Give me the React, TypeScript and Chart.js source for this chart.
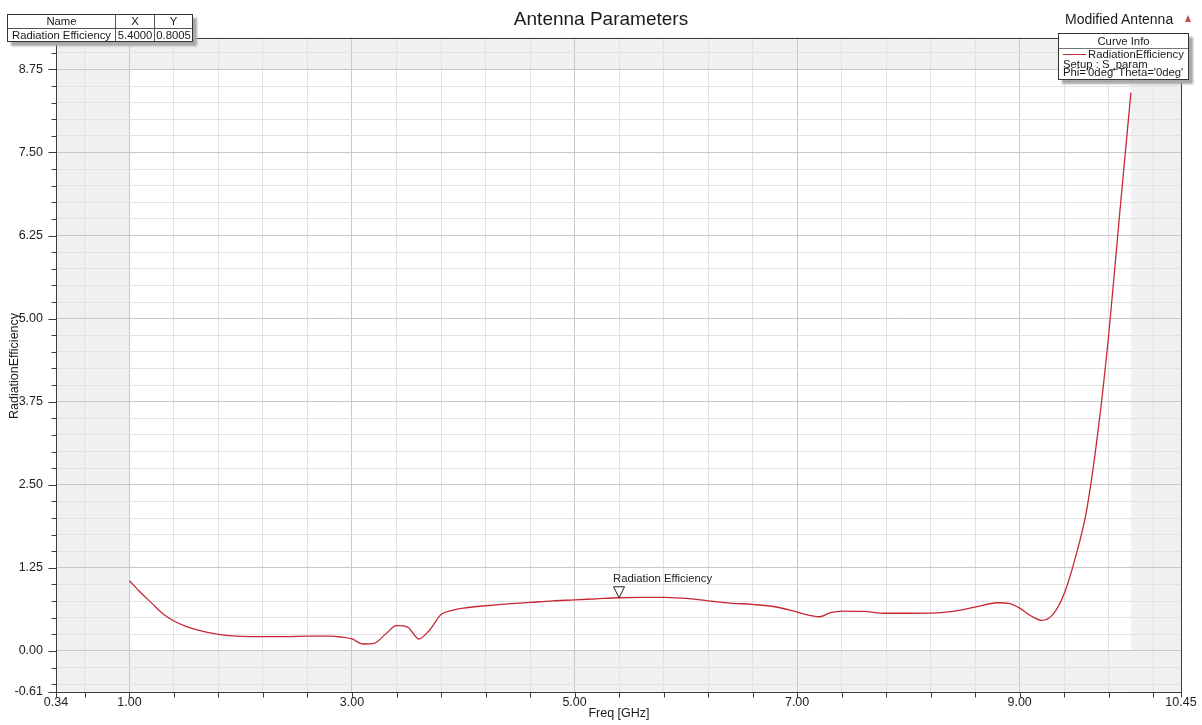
import React, { useEffect, useRef } from "react";
import { Chart, registerables } from "chart.js";

Chart.register(...registerables);

// ---- data ----
const freqGHz = [
  1.0, 1.1, 1.2, 1.3, 1.4, 1.5, 1.6, 1.7, 1.8, 1.9, 2.0, 2.2, 2.4, 2.6, 2.8, 2.9,
  3.0, 3.1, 3.2, 3.3, 3.4, 3.5, 3.6, 3.7, 3.8, 3.9, 4.0, 4.2, 4.4, 4.6, 4.8, 5.0,
  5.2, 5.4, 5.6, 5.8, 5.9, 6.0, 6.2, 6.4, 6.6, 6.8, 7.0, 7.1, 7.2, 7.3, 7.4, 7.6,
  7.8, 8.0, 8.2, 8.4, 8.6, 8.8, 8.9, 9.0, 9.1, 9.2, 9.3, 9.4, 9.5, 9.6, 9.7, 9.8,
  9.9, 10.0,
];
const radiationEfficiency = [
  1.057, 0.88, 0.72, 0.56, 0.45, 0.375, 0.32, 0.28, 0.25, 0.23, 0.218, 0.215, 0.215, 0.222, 0.222, 0.21,
  0.18, 0.105, 0.115, 0.25, 0.38, 0.36, 0.18, 0.32, 0.55, 0.61, 0.645, 0.68, 0.708, 0.73, 0.755, 0.768,
  0.785, 0.8005, 0.805, 0.805, 0.8, 0.79, 0.755, 0.72, 0.7, 0.665, 0.585, 0.54, 0.515, 0.575, 0.6, 0.595,
  0.567, 0.567, 0.568, 0.595, 0.66, 0.725, 0.715, 0.645, 0.53, 0.46, 0.55, 0.86, 1.4, 2.1, 3.25, 4.75,
  6.6, 8.4,
];

const xTicks = [
  0.34, 0.6, 1.0, 1.4, 1.8, 2.2, 2.6, 3.0, 3.4, 3.8, 4.2, 4.6, 5.0, 5.4, 5.8, 6.2,
  6.6, 7.0, 7.4, 7.8, 8.2, 8.6, 9.0, 9.4, 9.8, 10.2, 10.45,
];
const xTickLabels = ["0.34", "1.00", "3.00", "5.00", "7.00", "9.00", "10.45"];
const yTicks = [
  -0.61, -0.5, -0.25, 0, 0.25, 0.5, 0.75, 1.0, 1.25, 1.5, 1.75, 2.0, 2.25, 2.5, 2.75,
  3.0, 3.25, 3.5, 3.75, 4.0, 4.25, 4.5, 4.75, 5.0, 5.25, 5.5, 5.75, 6.0, 6.25, 6.5,
  6.75, 7.0, 7.25, 7.5, 7.75, 8.0, 8.25, 8.5, 8.75, 9.0,
];
const yTickLabels = ["-0.61", "0.00", "1.25", "2.50", "3.75", "5.00", "6.25", "7.50", "8.75"];

const xMin = 0.34;
const xMax = 10.45;
const yMin = -0.61;
const yMax = 9.23;
const shadeTop = 8.75;
const shadeBottom = 0;
const markerFreq = 5.4;
const markerValue = 0.8005;
const markerName = "Radiation Efficiency";

const FONT = '"Liberation Sans", Arial, sans-serif';
const CURVE_COLOR = "rgb(200, 40, 52)";

const labelFor = (v: number, labels: string[]) =>
  labels.find((l) => Math.abs(parseFloat(l) - v) < 1e-6) ?? "";

const hfssPlugin = {
  id: "hfssDecor",
  beforeDraw(chart: any) {
    const { ctx, chartArea: a } = chart;
    const xs = chart.scales.x;
    const ys = chart.scales.y;
    ctx.save();
    ctx.fillStyle = "#ffffff";
    ctx.fillRect(0, 0, chart.width, chart.height);
    ctx.fillStyle = "#f0f0f0";
    const x1 = xs.getPixelForValue(freqGHz[0]);
    const x2 = xs.getPixelForValue(freqGHz[freqGHz.length - 1]);
    const y0 = ys.getPixelForValue(shadeBottom);
    const yT = ys.getPixelForValue(shadeTop);
    ctx.fillRect(a.left, a.top, x1 - a.left, a.bottom - a.top);
    ctx.fillRect(x2, a.top, a.right - x2, a.bottom - a.top);
    ctx.fillRect(a.left, y0, a.right - a.left, a.bottom - y0);
    ctx.fillRect(a.left, a.top, a.right - a.left, yT - a.top);
    ctx.restore();
  },
  afterDraw(chart: any) {
    const { ctx, chartArea: a } = chart;
    const xs = chart.scales.x;
    const ys = chart.scales.y;
    ctx.save();
    ctx.strokeStyle = "#3c3c3c";
    ctx.lineWidth = 1;
    const L = Math.round(a.left) + 0.5;
    const T = Math.round(a.top) + 0.5;
    const R = Math.round(a.right) + 0.5;
    const B = Math.round(a.bottom) + 0.5;
    ctx.strokeRect(L, T, R - L, B - T);
    ctx.beginPath();
    yTicks.forEach((v) => {
      const py = Math.round(ys.getPixelForValue(v)) + 0.5;
      const len = labelFor(v, yTickLabels) ? 8 : 5;
      ctx.moveTo(L - len, py);
      ctx.lineTo(L, py);
    });
    xTicks.forEach((v) => {
      const px = Math.round(xs.getPixelForValue(v)) + 0.5;
      ctx.moveTo(px, B);
      ctx.lineTo(px, B + 5);
    });
    ctx.stroke();

    // marker
    const mx = xs.getPixelForValue(markerFreq);
    const my = ys.getPixelForValue(markerValue);
    ctx.beginPath();
    ctx.moveTo(mx - 5.5, my - 11);
    ctx.lineTo(mx + 5.5, my - 11);
    ctx.lineTo(mx, my);
    ctx.closePath();
    ctx.fillStyle = "#ffffff";
    ctx.fill();
    ctx.strokeStyle = "#222";
    ctx.stroke();
    ctx.fillStyle = "#222";
    ctx.font = `11.3px ${FONT}`;
    ctx.textBaseline = "middle";
    ctx.textAlign = "left";
    ctx.fillText(markerName, mx - 6, my - 19);
    ctx.restore();
  },
};

export default function App() {
  const canvasRef = useRef<HTMLCanvasElement | null>(null);

  useEffect(() => {
    if (!canvasRef.current) return;
    const chart = new Chart(canvasRef.current, {
      type: "line",
      data: {
        datasets: [
          {
            label: "RadiationEfficiency",
            data: freqGHz.map((f, i) => ({ x: f, y: radiationEfficiency[i] })),
            borderColor: CURVE_COLOR,
            borderWidth: 1.3,
            pointRadius: 0,
            cubicInterpolationMode: "monotone",
            fill: false,
          },
        ],
      },
      options: {
        animation: false,
        responsive: false,
        maintainAspectRatio: false,
        layout: { padding: { top: 37.5, right: 21, left: 0, bottom: 0 } },
        plugins: {
          legend: { display: false },
          tooltip: { enabled: false },
          title: { display: false },
        },
        scales: {
          x: {
            type: "linear",
            min: xMin,
            max: xMax,
            afterBuildTicks: (s: any) => {
              s.ticks = xTicks.map((v) => ({ value: v }));
            },
            afterFit: (s: any) => {
              s.height = 33.5;
            },
            ticks: {
              autoSkip: false,
              maxRotation: 0,
              minRotation: 0,
              padding: 4,
              color: "#222",
              font: { family: FONT, size: 12.5 },
              callback: (v: any) => labelFor(Number(v), xTickLabels),
            },
            grid: {
              drawTicks: false,
              lineWidth: 1,
              color: (c: any) => {
                const v = c.tick?.value;
                if (v == null || v === xMin || v === xMax) return "rgba(0,0,0,0)";
                return labelFor(v, xTickLabels) ? "#c8c8c8" : "#e2e2e2";
              },
            },
            border: { display: false },
          },
          y: {
            type: "linear",
            min: yMin,
            max: yMax,
            afterBuildTicks: (s: any) => {
              s.ticks = yTicks.map((v) => ({ value: v }));
            },
            afterFit: (s: any) => {
              s.width = 56;
            },
            ticks: {
              autoSkip: false,
              padding: 13,
              color: "#222",
              font: { family: FONT, size: 12.5 },
              callback: (v: any) => labelFor(Number(v), yTickLabels),
            },
            grid: {
              drawTicks: false,
              lineWidth: 1,
              color: (c: any) => {
                const v = c.tick?.value;
                if (v == null || v === yMin) return "rgba(0,0,0,0)";
                return labelFor(v, yTickLabels) ? "#c8c8c8" : "#e2e2e2";
              },
            },
            border: { display: false },
          },
        },
      },
      plugins: [hfssPlugin],
    } as any);
    return () => chart.destroy();
  }, []);

  const txt: React.CSSProperties = { position: "absolute", whiteSpace: "nowrap", color: "#1a1a1a" };

  return (
    <div
      style={{
        position: "fixed",
        left: 0,
        top: 0,
        width: 1202,
        height: 725,
        background: "#fff",
        fontFamily: FONT,
        overflow: "hidden",
      }}
    >
      <canvas
        ref={canvasRef}
        width={1202}
        height={725}
        style={{ position: "absolute", left: 0, top: 0, width: 1202, height: 725 }}
      />

      {/* title */}
      <div style={{ ...txt, left: 0, width: 1202, top: 8, textAlign: "center", fontSize: 19, lineHeight: "22px" }}>
        Antenna Parameters
      </div>

      {/* project name */}
      <div style={{ ...txt, left: 1065, top: 11, fontSize: 14, lineHeight: "16px" }}>Modified Antenna</div>
      <div
        style={{
          position: "absolute",
          left: 1185,
          top: 15,
          width: 0,
          height: 0,
          borderLeft: "3.5px solid transparent",
          borderRight: "3.5px solid transparent",
          borderBottom: "7px solid #c0504a",
        }}
      />

      {/* axis titles */}
      <div style={{ ...txt, left: 569, width: 100, top: 706, textAlign: "center", fontSize: 12.5, lineHeight: "15px" }}>
        Freq [GHz]
      </div>
      <div
        style={{
          ...txt,
          left: 14 - 60,
          top: 366 - 8,
          width: 120,
          textAlign: "center",
          fontSize: 12.5,
          lineHeight: "16px",
          transform: "rotate(-90deg)",
        }}
      >
        RadiationEfficiency
      </div>

      {/* marker table */}
      <div
        style={{
          position: "absolute",
          left: 7,
          top: 14,
          width: 186,
          height: 28,
          boxSizing: "border-box",
          border: "1px solid #333",
          background: "#fff",
          boxShadow: "4px 4px 2px #a8a8a8",
          fontSize: 11.3,
          color: "#1a1a1a",
        }}
      >
        <table
          style={{
            borderCollapse: "collapse",
            width: "100%",
            height: "100%",
            fontSize: 11.3,
            fontFamily: FONT,
            lineHeight: "12px",
          }}
        >
          <tbody>
            <tr>
              <td style={{ width: 107, textAlign: "center", padding: 0, borderRight: "1px solid #555", borderBottom: "1px solid #555" }}>Name</td>
              <td style={{ width: 38, textAlign: "center", padding: 0, borderRight: "1px solid #555", borderBottom: "1px solid #555" }}>X</td>
              <td style={{ textAlign: "center", padding: 0, borderBottom: "1px solid #555" }}>Y</td>
            </tr>
            <tr>
              <td style={{ textAlign: "center", padding: 0, borderRight: "1px solid #555" }}>{markerName}</td>
              <td style={{ textAlign: "center", padding: 0, borderRight: "1px solid #555" }}>{markerFreq.toFixed(4)}</td>
              <td style={{ textAlign: "center", padding: 0 }}>{markerValue.toFixed(4)}</td>
            </tr>
          </tbody>
        </table>
      </div>

      {/* curve info legend */}
      <div
        style={{
          position: "absolute",
          left: 1058,
          top: 33,
          width: 131,
          height: 47,
          boxSizing: "border-box",
          border: "1px solid #333",
          background: "#fff",
          boxShadow: "4px 4px 2px #a8a8a8",
        }}
      >
        <div style={{ ...txt, left: 0, width: 129, top: 1, textAlign: "center", fontSize: 11.3, lineHeight: "13px" }}>
          Curve Info
        </div>
        <div style={{ position: "absolute", left: 0, width: 129, top: 14, height: 1, background: "#777" }} />
        <div style={{ position: "absolute", left: 4, width: 23, top: 19.5, height: 1.3, background: CURVE_COLOR }} />
        <div style={{ ...txt, left: 29, top: 14, fontSize: 11.3, lineHeight: "12px" }}>RadiationEfficiency</div>
        <div style={{ ...txt, left: 4, top: 23.5, fontSize: 11.3, lineHeight: "12px" }}>Setup : S_param</div>
        <div style={{ ...txt, left: 4, top: 32, fontSize: 11.3, lineHeight: "12px" }}>Phi='0deg' Theta='0deg'</div>
      </div>
    </div>
  );
}
